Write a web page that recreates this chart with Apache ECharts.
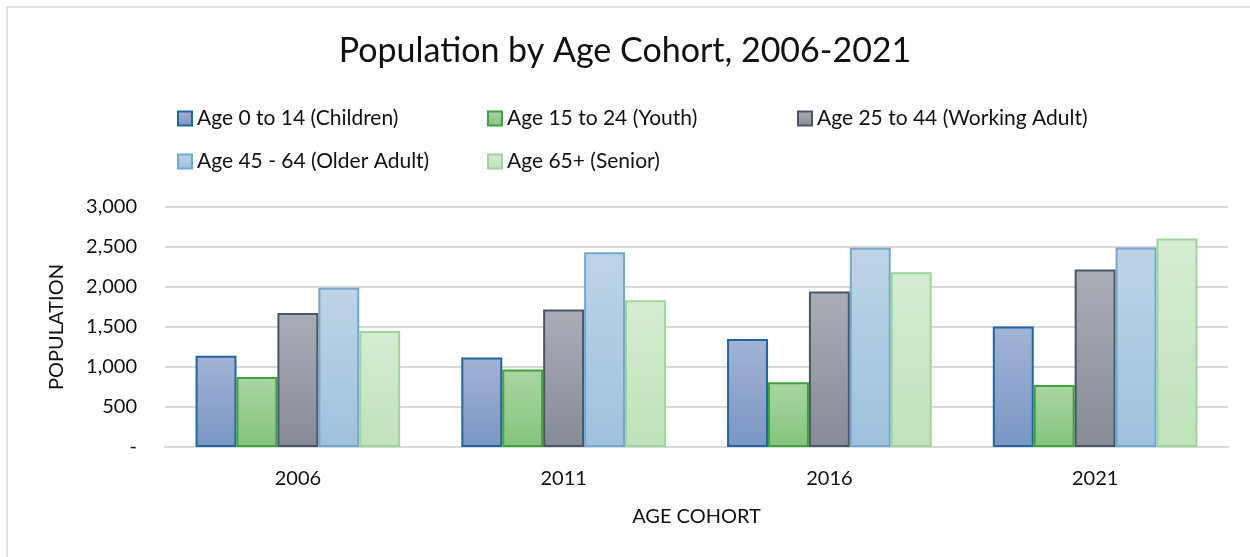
<!DOCTYPE html>
<html>
<head>
<meta charset="utf-8">
<script src="https://cdn.jsdelivr.net/npm/echarts@6/dist/echarts.min.js"></script>
<style>
  html, body { margin: 0; padding: 0; background: #fff; }
  #chart { width: 1250px; height: 557px; }
</style>
</head>
<body>
<div id="chart"></div>
<script>
// data
var years = ['2006', '2011', '2016', '2021'];
var children = [1140, 1120, 1350, 1505];
var youth = [875, 970, 810, 775];
var workingAdult = [1675, 1720, 1945, 2220];
var olderAdult = [1990, 2435, 2490, 2495];
var senior = [1450, 1835, 2185, 2605];
var yTicks = [0, 500, 1000, 1500, 2000, 2500, 3000];

var seriesNames = [
    'Age 0 to 14 (Children)',
    'Age 15 to 24 (Youth)',
    'Age 25 to 44 (Working Adult)',
    'Age 45 - 64 (Older Adult)',
    'Age 65+ (Senior)'
];
var seriesData = [children, youth, workingAdult, olderAdult, senior];

// fill top, fill bottom, border
var styles = [
    ['#a2b3d6', '#7996c3', '#1f66a3'],
    ['#a9d6a2', '#84c47c', '#3fa23c'],
    ['#a9adb6', '#868b96', '#4b5567'],
    ['#bdd4e6', '#9ec1de', '#73a7d0'],
    ['#d5ecd2', '#bfe2ba', '#9fd59a']
];

var font = 'Lato, "Open Sans", sans-serif';

var chart = echarts.init(document.getElementById('chart'));

var legendLeft = [172, 482, 792, 172, 482];
var legendTop = [103, 103, 103, 146, 146];

chart.setOption({
    animation: false,
    textStyle: { fontFamily: font },
    title: {
        text: 'Population by Age Cohort, 2006-2021',
        left: 'center',
        top: 29,
        textStyle: { fontFamily: font, fontSize: 34, fontWeight: 'normal', color: '#111' }
    },
    graphic: [{
        type: 'rect',
        shape: { x: 7, y: 7, width: 1300, height: 600 },
        style: { fill: 'none', stroke: '#d9d9d9', lineWidth: 1.5 },
        silent: true
    }],
    legend: seriesNames.map(function (n, i) {
        return {
            data: [n],
            left: legendLeft[i],
            top: legendTop[i],
            itemWidth: 14,
            itemHeight: 14,
            itemGap: 6,
            icon: 'rect',
            textStyle: { fontFamily: font, fontSize: 21, color: '#111' }
        };
    }),
    grid: { left: 165, right: 22, top: 207, bottom: 110 },
    xAxis: {
        type: 'category',
        data: years,
        name: 'AGE COHORT',
        nameLocation: 'middle',
        nameGap: 60,
        nameTextStyle: { fontFamily: font, fontSize: 20, color: '#111' },
        axisTick: { show: false },
        axisLine: { lineStyle: { color: '#d9d9d9', width: 2 } },
        axisLabel: { fontFamily: font, fontSize: 20, color: '#111', margin: 22 }
    },
    yAxis: {
        type: 'value',
        min: yTicks[0],
        max: yTicks[yTicks.length - 1],
        interval: 500,
        name: 'POPULATION',
        nameLocation: 'middle',
        nameGap: 98,
        nameTextStyle: { fontFamily: font, fontSize: 20, color: '#111' },
        axisLine: { show: false },
        axisTick: { show: false },
        splitLine: { lineStyle: { color: '#d9d9d9', width: 2 } },
        axisLabel: {
            fontFamily: font, fontSize: 20, color: '#111', margin: 28,
            formatter: function (v) { return v === 0 ? '-' : v.toLocaleString('en-US'); }
        }
    },
    series: seriesNames.map(function (n, i) {
        return {
            name: n,
            type: 'bar',
            data: seriesData[i],
            barGap: '0%',
            barCategoryGap: '23%',
            itemStyle: {
                color: new echarts.graphic.LinearGradient(0, 0, 0, 1, [
                    { offset: 0, color: styles[i][0] },
                    { offset: 1, color: styles[i][1] }
                ]),
                borderColor: styles[i][2],
                borderWidth: 2
            }
        };
    })
});
</script>
</body>
</html>
